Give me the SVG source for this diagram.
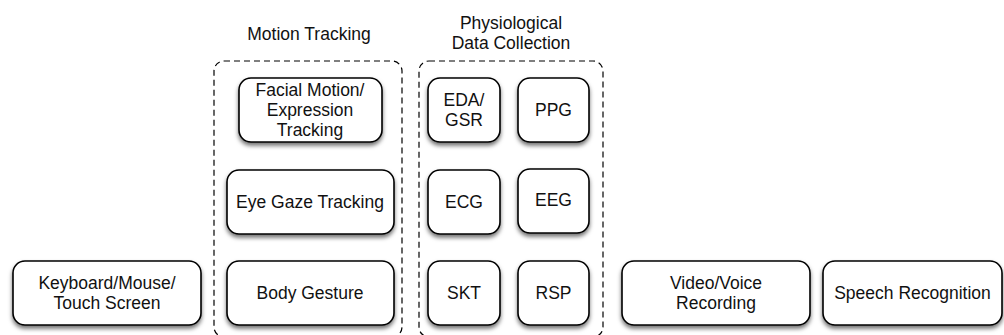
<svg xmlns="http://www.w3.org/2000/svg" width="1004" height="335" viewBox="0 0 1004 335">
<defs>
<filter id="sh" x="-10%" y="-20%" width="120%" height="150%">
<feDropShadow dx="0" dy="3" stdDeviation="2" flood-color="#000" flood-opacity="0.55"/>
</filter>
</defs>
<style>
.b{fill:#fff;stroke:#000;stroke-width:1.6;filter:url(#sh)}
.g{fill:none;stroke:#000;stroke-width:1.2;stroke-dasharray:6 4}
text{font-family:"Liberation Sans",Arial,sans-serif;font-size:17.5px;fill:#111;text-anchor:middle}
</style>
<rect width="1004" height="335" fill="#fff"/>
<g id="motion-tracking">
<rect class="g" x="214" y="61" width="188" height="276" rx="10"/>
<text x="309" y="40">Motion Tracking</text>
</g>
<g id="physiological">
<rect class="g" x="419" y="61" width="184" height="276" rx="10"/>
<text x="511" y="29">Physiological</text>
<text x="511" y="49">Data Collection</text>
</g>
<g id="keyboard">
<rect class="b" x="13" y="261" width="188" height="64" rx="12"/>
<text x="107" y="289">Keyboard/Mouse/</text>
<text x="107" y="309">Touch Screen</text>
</g>
<g id="facial">
<rect class="b" x="239" y="78" width="143" height="64" rx="12"/>
<text x="310" y="96">Facial Motion/</text>
<text x="310" y="116">Expression</text>
<text x="310" y="136">Tracking</text>
</g>
<g id="eye-gaze">
<rect class="b" x="227" y="170" width="167" height="64" rx="12"/>
<text x="310" y="208">Eye Gaze Tracking</text>
</g>
<g id="body-gesture">
<rect class="b" x="227" y="261" width="167" height="64" rx="12"/>
<text x="310" y="299">Body Gesture</text>
</g>
<g id="eda">
<rect class="b" x="428" y="78" width="72" height="64" rx="12"/>
<text x="464" y="106">EDA/</text>
<text x="464" y="126">GSR</text>
</g>
<g id="ppg">
<rect class="b" x="518" y="78" width="71" height="64" rx="12"/>
<text x="553.5" y="116">PPG</text>
</g>
<g id="ecg">
<rect class="b" x="428" y="170" width="72" height="64" rx="12"/>
<text x="464" y="208">ECG</text>
</g>
<g id="eeg">
<rect class="b" x="518" y="169" width="71" height="64" rx="12"/>
<text x="553.5" y="206">EEG</text>
</g>
<g id="skt">
<rect class="b" x="428" y="261" width="72" height="64" rx="12"/>
<text x="464" y="299">SKT</text>
</g>
<g id="rsp">
<rect class="b" x="518" y="261" width="71" height="64" rx="12"/>
<text x="553.5" y="299">RSP</text>
</g>
<g id="video-voice">
<rect class="b" x="622" y="261" width="188" height="64" rx="12"/>
<text x="716" y="289">Video/Voice</text>
<text x="716" y="309">Recording</text>
</g>
<g id="speech">
<rect class="b" x="823" y="261" width="179" height="64" rx="12"/>
<text x="912.5" y="299">Speech Recognition</text>
</g>
<g id="connectors"></g>
</svg>
